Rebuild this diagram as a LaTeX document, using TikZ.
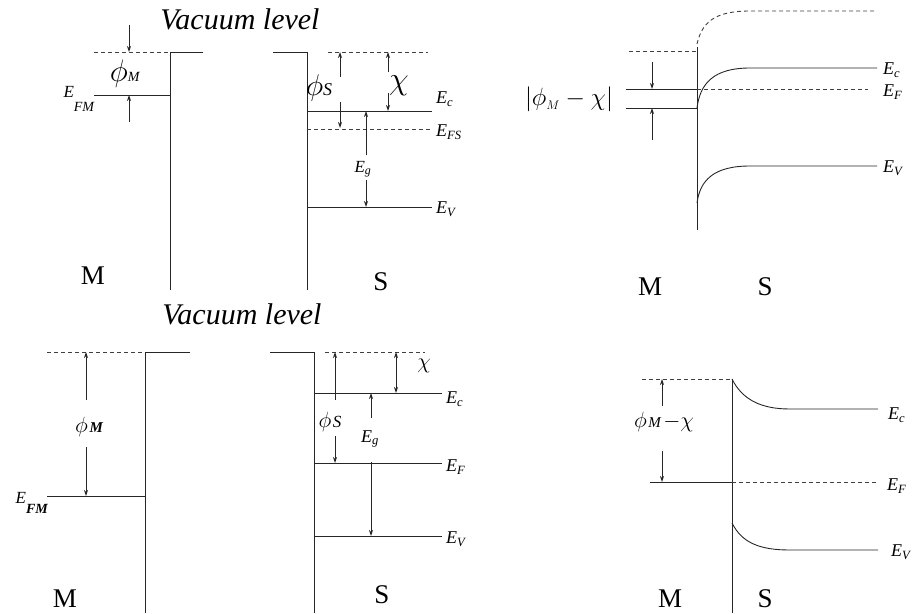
\RequirePackage{fix-cm}
\documentclass[tikz,border=0pt]{standalone}
\usepackage{amsmath}
\usepackage{fontspec}
\setmainfont{Liberation Serif}
\usetikzlibrary{arrows.meta}

\tikzset{
  band/.style={line width=0.9pt, black!85},
  vac/.style={line width=0.9pt, black!75, dash pattern=on 4pt off 3pt},
  gap/.style={line width=0.9pt, black!85, -{Stealth[length=6pt,width=4pt]}},
  gapboth/.style={line width=0.9pt, black!85, {Stealth[length=6pt,width=4pt]}-{Stealth[length=6pt,width=4pt]}},
  lvl/.style={anchor=west, inner sep=1pt, font=\fontsize{18}{20}\selectfont},
  side/.style={inner sep=1pt, font=\fontsize{27}{30}\selectfont},
  title/.style={anchor=base, font=\fontsize{30}{32}\selectfont\itshape},
}
\newcommand{\en}[1]{$\textit{E}_{\textit{#1}}$}

\begin{document}
\begin{tikzpicture}[x=1pt,y=-1pt]
    \useasboundingbox (0,0) rectangle (915,613);

    % ---- Before contact (top left)
    \node[title] (vac1) at (240,29) {Vacuum level};
    % Metal
    \draw[vac] (94,52) -- (170,52);
    \draw[band] (203,52) -- (170,52) -- (170,290);
    \draw[band] (94,95) -- (170,95);
    % Semiconductor
    \draw[band] (273,52) -- (307,52) -- (307,290);
    \draw[vac] (328,52) -- (428,52);
    \draw[band] (307,111) -- (432,111);
    \draw[vac] (307,129) -- (432,129);
    \draw[band] (307,207) -- (432,207);
    % Energy gaps
    \foreach \x/\a/\b in {129/25/52, 129/122/95, 340/77/52, 340/102/128,
                          388/72/52, 388/93/111, 366/155/111, 366/180/207} {
        \draw[gap] (\x,\a) -- (\x,\b);
    }
    \node (phim1) at (125,74) {{\fontsize{31}{31}\selectfont$\phi$}{\fontsize{14}{14}\selectfont\textit{M}}};
    \node (phis1) at (319,88) {{\fontsize{30}{30}\selectfont$\phi$}{\fontsize{18}{18}\selectfont\textit{S}}};
    \node (chi1) at (399,86) {\fontsize{32}{32}\selectfont$\chi$};
    \node (eg1) at (363,169) {\fontsize{17}{17}\selectfont\en{g}};
    \node[anchor=base east, inner sep=0pt, font=\fontsize{17}{17}\selectfont] (efm1) at (95,97)
        {\textit{E}\raisebox{-14pt}{\fontsize{14}{14}\selectfont\textit{FM}}};
    \node[lvl] (ec1) at (435,99) {\en{c}};
    \node[lvl] (efs1) at (435,132) {\en{FS}};
    \node[lvl] (ev1) at (435,209) {\en{V}};
    \node[side] (m1) at (93,276) {M};
    \node[side] (s1) at (381,282) {S};

    % ---- After contact (top right)
    \draw[vac] (629,51) -- (697,51);
    \draw[band] (697,47) -- (697,230);
    \draw[band] (626,89) -- (697,89);
    \draw[band] (626,108) -- (697,108);
    \draw[vac] (697,89) -- (868,89);
    \draw[vac] (697,44) .. controls (702,22) and (715,11) .. (750,11) -- (877,11);
    \draw[band] (697,108) .. controls (700,84) and (713,68) .. (750,68) -- (877,68);
    \draw[band] (697,203) .. controls (700,180) and (714,166) .. (750,166) -- (877,166);
    \draw[gap] (652,62) -- (652,89);
    \draw[gap] (652,140) -- (652,108);
    \node (barr2) at (569,99) {\fontsize{25}{25}\selectfont$|\phi_{\scriptscriptstyle M}-\chi|$};
    \node[lvl] (ec2) at (882,70) {\en{c}};
    \node[lvl] (ef2) at (882,92) {\en{F}};
    \node[lvl] (ev2) at (882,168) {\en{V}};
    \node[side] (m2) at (650,287) {M};
    \node[side] (s2) at (765,287) {S};

    % ---- Before contact (bottom left)
    \node[title] (vac3) at (242,324) {Vacuum level};
    % Metal
    \draw[vac] (47,352) -- (145,352);
    \draw[band] (190,352) -- (145,352) -- (145,613);
    \draw[band] (47,496) -- (145,496);
    % Semiconductor
    \draw[band] (270,352) -- (314,352) -- (314,613);
    \draw[vac] (325,352) -- (425,352);
    \draw[band] (314,393) -- (442,393);
    \draw[band] (314,463) -- (442,463);
    \draw[band] (314,536) -- (442,536);
    % Energy gaps
    \foreach \x/\a/\b in {86/400/352, 86/447/496, 335/400/352, 335/436/463,
                          371/418/393, 371/462/536} {
        \draw[gap] (\x,\a) -- (\x,\b);
    }
    \draw[gapboth] (396,352) -- (396,393);
    \node (phim3) at (89,427) {{\fontsize{22}{22}\selectfont$\phi$}\,{\fontsize{15}{15}\selectfont\bfseries\itshape M}};
    \node (phis3) at (330,422) {{\fontsize{22}{22}\selectfont$\phi$}\,{\fontsize{17}{17}\selectfont\textit{S}}};
    \node (chi3) at (424,366) {\fontsize{22}{22}\selectfont$\chi$};
    \node (eg3) at (370,439) {\fontsize{18}{18}\selectfont\en{g}};
    \node[anchor=base east, inner sep=0pt, font=\fontsize{17}{17}\selectfont] (efm3) at (48,503)
        {\textit{E}\raisebox{-10pt}{\fontsize{14}{14}\selectfont\bfseries\itshape FM}};
    \node[lvl] (ec3) at (445,399) {\en{c}};
    \node[lvl] (ef3) at (445,467) {\en{F}};
    \node[lvl] (ev3) at (445,539) {\en{V}};
    \node[side] (m3) at (65,599) {M};
    \node[side] (s3) at (382,595) {S};

    % ---- After contact (bottom right)
    \draw[vac] (642,379) -- (732,379);
    \draw[band] (732,379) -- (732,613);
    \draw[band] (732,379) .. controls (742,399) and (760,409) .. (790,409) -- (878,409);
    \draw[band] (650,482) -- (732,482);
    \draw[vac] (732,482) -- (878,482);
    \draw[band] (732,523) .. controls (742,543) and (760,550) .. (790,550) -- (878,550);
    \draw[gap] (662,406) -- (662,379);
    \draw[gap] (662,451) -- (662,482);
    \node (barr4) at (664,422) {{\fontsize{22}{22}\selectfont$\phi$}\,{\fontsize{15}{15}\selectfont\textit{M}}\,{\fontsize{22}{22}\selectfont$-\chi$}};
    \node[lvl] (ec4) at (887,415) {\en{c}};
    \node[lvl] (ef4) at (886,486) {\en{F}};
    \node[lvl] (ev4) at (890,552) {\en{V}};
    \node[side] (m4) at (670,599) {M};
    \node[side] (s4) at (765,599) {S};
\end{tikzpicture}
\end{document}
